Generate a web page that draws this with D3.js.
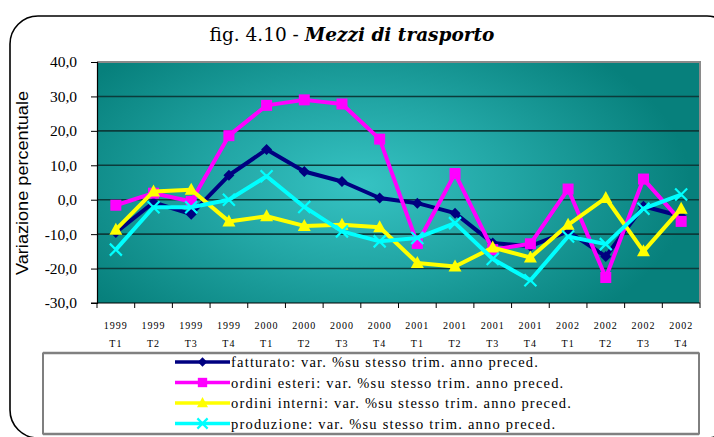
<!DOCTYPE html>
<html><head><meta charset="utf-8">
<script src="https://cdn.jsdelivr.net/npm/d3@7"></script>
<style>html,body{margin:0;padding:0;background:#fff;overflow:hidden}</style>
</head><body>
<svg id="chart" width="714" height="437"></svg>
<script>
const years = ["1999","1999","1999","1999","2000","2000","2000","2000","2001","2001","2001","2001","2002","2002","2002","2002"];
const quarters = ["T1","T2","T3","T4","T1","T2","T3","T4","T1","T2","T3","T4","T1","T2","T3","T4"];
const fatturato = [-9.5,-0.8,-4.2,7.1,14.6,8.2,5.3,0.5,-1.0,-3.9,-12.6,-13.5,-9.2,-16.5,-1.9,-4.8];
const ordiniEsteri = [-1.6,1.9,-0.5,18.6,27.4,29.0,27.8,17.6,-12.7,7.6,-14.5,-12.8,3.1,-22.6,6.0,-6.3];
const ordiniInterni = [-8.7,2.4,2.9,-6.3,-4.8,-7.6,-7.3,-8.0,-18.4,-19.4,-13.9,-16.8,-7.3,0.5,-15.0,-2.6];
const produzione = [-14.5,-2.2,-2.2,0.0,6.8,-2.1,-9.2,-12.1,-11.1,-6.8,-17.2,-23.4,-10.7,-12.9,-2.6,1.5];
const yTicks = [-30,-20,-10,0,10,20,30,40];
const seriesNames = ["fatturato: var. %su stesso trim. anno preced.","ordini esteri: var. %su stesso trim. anno preced.","ordini interni: var. %su stesso trim. anno preced.","produzione: var. %su stesso trim. anno preced."];
const seriesColors = ["#000080","#ff00ff","#ffff00","#00ffff"];
const seriesMarkers = ["diamond","square","triangle","x"];
const seriesValues = [fatturato, ordiniEsteri, ordiniInterni, produzione];

const SERIF = "Liberation Serif";
const svg = d3.select("#chart");
const L=97, R=700, T=62, B=303;
const idx = d3.range(years.length);
const x = d3.scaleBand().domain(idx).range([L,R]);
const y = d3.scaleLinear().domain([-30,40]).range([B,T]);

// outer frame
svg.append("rect").attr("x",10).attr("y",16).attr("width",725).attr("height",422)
  .attr("rx",28).attr("ry",28).attr("fill","none").attr("stroke","#000").attr("stroke-width",1.6);

// title
const title = svg.append("text").attr("x",352).attr("y",41).attr("text-anchor","middle")
  .style("font-family","'DejaVu Serif'").style("font-size","18.5px").attr("fill","#000");
title.append("tspan").text("fig. 4.10 - ");
title.append("tspan").style("font-weight","bold").style("font-style","italic").text("Mezzi di trasporto");

// plot background gradient
const defs = svg.append("defs");
const grad = defs.append("radialGradient").attr("id","bg").attr("gradientUnits","userSpaceOnUse")
  .attr("cx",360).attr("cy",185).attr("r",330).attr("gradientTransform","translate(360,185) scale(1,0.55) translate(-360,-185)");
grad.append("stop").attr("offset","0%").attr("stop-color","#36c3c3");
grad.append("stop").attr("offset","45%").attr("stop-color","#22a6a5");
grad.append("stop").attr("offset","100%").attr("stop-color","#07807c");
svg.append("rect").attr("x",L).attr("y",T).attr("width",R-L).attr("height",B-T).attr("fill","url(#bg)");

// gridlines
svg.append("g").selectAll("line").data(yTicks.filter(d=>d>-30&&d<40)).join("line")
  .attr("x1",L).attr("x2",R).attr("y1",d=>y(d)).attr("y2",d=>y(d))
  .attr("stroke","#0b3b3b").attr("stroke-width",1.6);

// plot border top/right gray
svg.append("path").attr("d",`M${L},${T}H${R}V${B}`).attr("fill","none").attr("stroke","#8a8a8a").attr("stroke-width",2);

// y axis
const yAxis = svg.append("g").attr("transform",`translate(${L},0)`)
  .call(d3.axisLeft(y).tickValues(yTicks).tickSize(6).tickPadding(14).tickFormat(d=>d3.format(".1f")(d).replace(".",",").replace("−","-")));
yAxis.attr("font-family",null).attr("font-size",null);
yAxis.select(".domain").attr("stroke","#000").attr("stroke-width",1.2);
yAxis.selectAll(".tick line").attr("stroke","#000");
yAxis.selectAll(".tick text").style("font-family",SERIF).style("font-size","15.5px").attr("fill","#000");

// y title
svg.append("text").attr("transform","translate(28,183) rotate(-90)").attr("text-anchor","middle")
  .style("font-family","'Liberation Sans'").style("font-size","16px").attr("fill","#000")
  .attr("textLength",184).attr("lengthAdjust","spacingAndGlyphs")
  .text("Variazione percentuale");

// x axis
const xg = svg.append("g");
xg.append("line").attr("x1",L-6).attr("x2",R).attr("y1",B).attr("y2",B).attr("stroke","#000").attr("stroke-width",1.2);
xg.selectAll("line.tk").data(idx.concat([idx.length])).join("line").attr("class","tk")
  .attr("x1",d=>d<idx.length?x(d):x(idx.length-1)+x.bandwidth()).attr("x2",d=>d<idx.length?x(d):x(idx.length-1)+x.bandwidth())
  .attr("y1",B).attr("y2",B+5).attr("stroke","#000");
const xl = xg.selectAll("text").data(idx).join("text")
  .style("font-family",SERIF).style("font-size","10px").attr("fill","#000")
  .attr("text-anchor","middle");
xl.append("tspan").attr("x",d=>x(d)+x.bandwidth()/2).attr("y",329).attr("letter-spacing",1).text(d=>years[d]);
xl.append("tspan").attr("x",d=>x(d)+x.bandwidth()/2).attr("y",347).attr("letter-spacing",1).text(d=>quarters[d]);

// markers
function marker(g, type, color, cx, cy, s){
  if(type==="diamond"){
    g.append("path").attr("d",`M${cx},${cy-s*5.5}L${cx+s*5.5},${cy}L${cx},${cy+s*5.5}L${cx-s*5.5},${cy}Z`).attr("fill",color);
  } else if(type==="square"){
    g.append("rect").attr("x",cx-s*5.5).attr("y",cy-s*5.5).attr("width",s*11).attr("height",s*11).attr("fill",color);
  } else if(type==="triangle"){
    g.append("path").attr("d",`M${cx},${cy-s*7}L${cx+s*6.5},${cy+s*5}L${cx-s*6.5},${cy+s*5}Z`).attr("fill",color);
  } else {
    const r=s*6;
    g.append("path").attr("d",`M${cx-r},${cy-r}L${cx+r},${cy+r}M${cx-r},${cy+r}L${cx+r},${cy-r}`).attr("stroke",color).attr("stroke-width",2.2).attr("fill","none");
  }
}

const line = d3.line().x((d,i)=>x(i)+x.bandwidth()/2).y(d=>y(d));
seriesValues.forEach((vals,k)=>{
  const g = svg.append("g");
  g.append("path").datum(vals).attr("d",line).attr("fill","none").attr("stroke",seriesColors[k]).attr("stroke-width",4).attr("stroke-linejoin","round");
  vals.forEach((v,i)=>marker(g, seriesMarkers[k], seriesColors[k], x(i)+x.bandwidth()/2, y(v), 1));
});

// legend
const lg = svg.append("g");
lg.append("rect").attr("x",43).attr("y",353).attr("width",656).attr("height",81).attr("fill","#fff").attr("stroke","#000").attr("stroke-width",1);
lg.append("line").attr("x1",43).attr("x2",699).attr("y1",353).attr("y2",353).attr("stroke","#808080").attr("stroke-width",2.5);
lg.append("line").attr("x1",43).attr("x2",699).attr("y1",434).attr("y2",434).attr("stroke","#808080").attr("stroke-width",2.5);
seriesNames.forEach((nm,k)=>{
  const yy = 362 + k*20.5;
  lg.append("line").attr("x1",175).attr("x2",230).attr("y1",yy).attr("y2",yy).attr("stroke",seriesColors[k]).attr("stroke-width",3.5);
  marker(lg, seriesMarkers[k], seriesColors[k], 202.5, yy, 0.85);
  lg.append("text").attr("x",231).attr("y",yy+5).style("font-family",SERIF)
    .style("font-size","14.5px").attr("letter-spacing",1.2).attr("fill","#000").text(nm);
});
</script>
</body></html>
